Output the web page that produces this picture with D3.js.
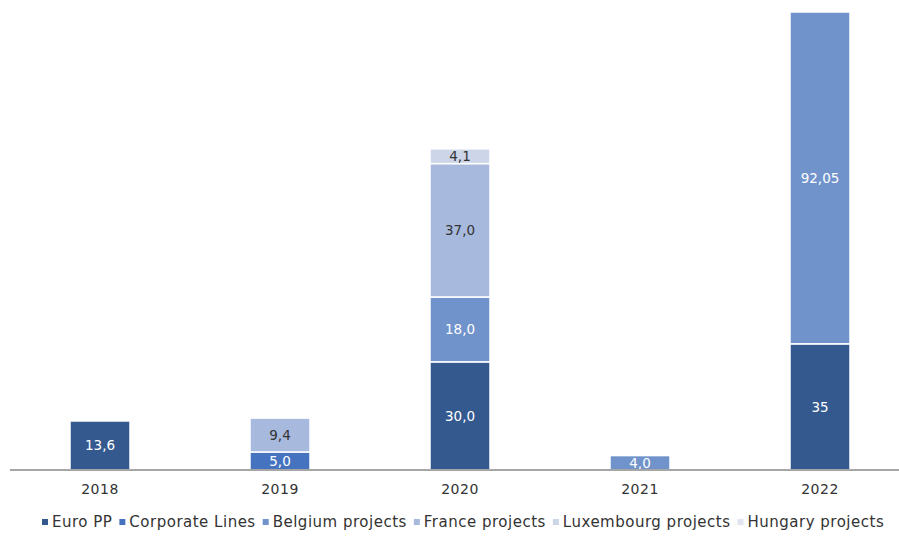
<!DOCTYPE html>
<html>
<head>
<meta charset="utf-8">
<script src="https://cdn.jsdelivr.net/npm/d3@7"></script>
<style>
  body { margin: 0; background: #fff; }
  text { font-family: "DejaVu Sans", Verdana, sans-serif; }
</style>
</head>
<body>
<svg id="canvas" width="899" height="539"></svg>
<script>
const width = 899
const height = 539

// data
const years = ["2018", "2019", "2020", "2021", "2022"]
const seriesNames = ["Euro PP", "Corporate Lines", "Belgium projects", "France projects", "Luxembourg projects", "Hungary projects"]
const euroPP = [13.6, 0, 30.0, 0, 35]
const corporateLines = [0, 5.0, 0, 0, 0]
const belgium = [0, 0, 18.0, 4.0, 92.05]
const france = [0, 9.4, 37.0, 0, 0]
const luxembourg = [0, 0, 4.1, 0, 0]
const hungary = [0, 0, 0, 0, 0]
const labelText = [
    ["13,6", "", "30,0", "", "35"],
    ["", "5,0", "", "", ""],
    ["", "", "18,0", "4,0", "92,05"],
    ["", "9,4", "37,0", "", ""],
    ["", "", "4,1", "", ""],
    ["", "", "", "", ""]
]

const colors = ["#34598f", "#4573c0", "#7093cb", "#a7b9dd", "#cdd6e9", "#dfe4ee"]
const labelColors = ["#fff", "#fff", "#fff", "#333", "#333", "#333"]

const allSeries = [euroPP, corporateLines, belgium, france, luxembourg, hungary]

const table = years.map((y, i) => {
    const row = { year: y }
    seriesNames.forEach((s, k) => { row[s] = allSeries[k][i] })
    return row
})

const stack = d3.stack().keys(seriesNames)(table)

const canvas = d3.select("#canvas")

const x = d3.scaleBand()
    .domain(years)
    .range([10, 910])
    .paddingInner(2 / 3)
    .paddingOuter(1 / 3)

const y = d3.scaleLinear()
    .domain([0, 127.05])
    .range([470, 12])

const layers = canvas.selectAll("g.layer")
    .data(stack)
    .enter().append("g")
    .attr("class", "layer")
    .attr("fill", (d, i) => colors[i])

layers.selectAll("rect")
    .data(d => d.filter(p => p[1] - p[0] > 0))
    .enter().append("rect")
    .attr("x", d => x(d.data.year))
    .attr("y", d => y(d[1]))
    .attr("width", x.bandwidth())
    .attr("height", d => y(d[0]) - y(d[1]))
    .attr("stroke", "#fff")
    .attr("stroke-width", 1.5)

// value labels
stack.forEach((layer, k) => {
    layer.forEach((p, i) => {
        if (p[1] - p[0] <= 0) return
        canvas.append("text")
            .attr("x", x(p.data.year) + x.bandwidth() / 2)
            .attr("y", (y(p[0]) + y(p[1])) / 2)
            .attr("dy", "0.36em")
            .attr("text-anchor", "middle")
            .attr("font-size", 13.5)
            .attr("fill", labelColors[k])
            .text(labelText[k][i])
    })
})

// baseline
canvas.append("line")
    .attr("x1", 10)
    .attr("x2", width)
    .attr("y1", 470)
    .attr("y2", 470)
    .attr("stroke", "#a6a6a6")
    .attr("stroke-width", 2)

const xAxis = canvas.append("g")
    .attr("transform", "translate(0,470)")
    .call(d3.axisBottom(x).tickSize(0).tickPadding(14))
xAxis.select(".domain").remove()
xAxis.selectAll("text")
    .attr("font-size", 14)
    .attr("fill", "#333")
    .attr("letter-spacing", 0.5)
    .style("font-family", "'DejaVu Sans', Verdana, sans-serif")

// legend
const legend = canvas.append("g").attr("transform", "translate(0,522)")
let lx = 42
seriesNames.forEach((name, i) => {
    legend.append("rect")
        .attr("x", lx)
        .attr("y", -3)
        .attr("width", 6)
        .attr("height", 6)
        .attr("fill", colors[i])
    const t = legend.append("text")
        .attr("x", lx + 10)
        .attr("y", 0)
        .attr("dy", "0.35em")
        .attr("font-size", 15)
        .attr("letter-spacing", 0.5)
        .attr("fill", "#333")
        .text(name)
    lx += 10 + t.node().getComputedTextLength() + 7
})
</script>
</body>
</html>
